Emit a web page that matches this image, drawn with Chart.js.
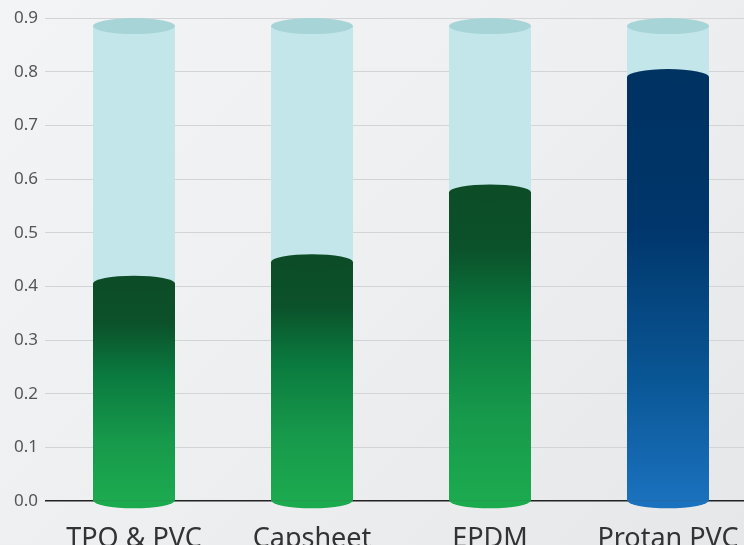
<!DOCTYPE html>
<html>
<head>
<meta charset="utf-8">
<script src="https://cdn.jsdelivr.net/npm/chart.js@4.4.0/dist/chart.umd.min.js"></script>
<style>
  html, body { margin: 0; padding: 0; width: 744px; height: 545px; overflow: hidden; }
  body { background: linear-gradient(135deg, #f3f4f6 0%, #eeeff1 50%, #e6e7e9 100%); }
  canvas { display: block; }
</style>
</head>
<body>
<canvas id="chart" width="757" height="560"></canvas>
<script>
// chart data
const categories = ['TPO & PVC', 'Capsheet', 'EPDM', 'Protan PVC'];
const values = [0.405, 0.445, 0.575, 0.79];
const capacity = [0.885, 0.885, 0.885, 0.885];
const yTicks = [0, 0.1, 0.2, 0.3, 0.4, 0.5, 0.6, 0.7, 0.8, 0.9];

const greenStops = [[0, '#0c4d27'], [0.18, '#0b512a'], [0.42, '#0a7a3f'], [0.72, '#17994b'], [1, '#1caa4f']];
const blueStops = [[0, '#003262'], [0.35, '#00366b'], [0.72, '#0a5796'], [1, '#1a71bd']];

function barFill(context) {
    const chart = context.chart;
    const i = context.dataIndex;
    const y = chart.scales && chart.scales.y;
    if (!chart.chartArea || !y || y.getPixelForValue(0) === undefined) return '#1caa4f';
    const top = y.getPixelForValue(values[i]);
    const base = y.getPixelForValue(0);
    const g = chart.ctx.createLinearGradient(0, top, 0, base);
    (i === 3 ? blueStops : greenStops).forEach(function(s) { g.addColorStop(s[0], s[1]); });
    return g;
}

// draw the cylinder caps on top of each bar
const cylinderCaps = {
    id: 'cylinderCaps',
    afterDatasetDraw: function(chart, args) {
        const ctx = chart.ctx;
        const isValue = args.index === 0;
        args.meta.data.forEach(function(bar, i) {
            const rx = bar.width / 2;
            const ry = 8;
            ctx.save();
            if (isValue) {
                ctx.fillStyle = i === 3 ? '#1a71bd' : '#1caa4f';
                ctx.beginPath();
                ctx.ellipse(bar.x, bar.base, rx, ry, 0, 0, Math.PI);
                ctx.fill();
                ctx.fillStyle = i === 3 ? '#003262' : '#0c4d27';
            } else {
                ctx.fillStyle = '#a6d4d7';
            }
            ctx.beginPath();
            ctx.ellipse(bar.x, bar.y, rx, ry, 0, 0, Math.PI * 2);
            ctx.fill();
            ctx.restore();
        });
    }
};

document.addEventListener('DOMContentLoaded', function() {
    const ctx = document.getElementById('chart').getContext('2d');
    new Chart(ctx, {
        type: 'bar',
        data: {
            labels: categories,
            datasets: [{
                label: 'Value',
                data: values,
                backgroundColor: barFill,
                order: 1
            }, {
                label: 'Capacity',
                data: capacity,
                backgroundColor: '#c3e6ea',
                order: 2
            }]
        },
        options: {
            responsive: false,
            animation: false,
            devicePixelRatio: 1,
            layout: { padding: { top: 18, left: 0, right: 0, bottom: 0 } },
            datasets: {
                bar: {
                    grouped: false,
                    categoryPercentage: 1,
                    barPercentage: 0.4607,
                    borderWidth: 0
                }
            },
            plugins: {
                legend: { display: false },
                tooltip: { enabled: false }
            },
            scales: {
                x: {
                    grid: { display: false },
                    border: { display: false },
                    ticks: {
                        color: '#333333',
                        padding: 14,
                        font: { family: 'Noto Sans', size: 27 }
                    },
                    afterFit: function(scale) { scale.height = 59; }
                },
                y: {
                    min: 0,
                    max: 0.9,
                    border: { display: false },
                    grid: {
                        drawTicks: false,
                        color: function(c) { return c.tick && c.tick.value === 0 ? '#222222' : '#d3d4d6'; },
                        lineWidth: function(c) { return c.tick && c.tick.value === 0 ? 1.5 : 1; }
                    },
                    afterBuildTicks: function(scale) {
                        scale.ticks = yTicks.map(function(v) { return { value: v }; });
                    },
                    ticks: {
                        color: '#555555',
                        padding: 7,
                        font: { family: 'Noto Sans', size: 17 },
                        callback: function(v) { return Number(v).toFixed(1); }
                    },
                    afterFit: function(scale) { scale.width = 45; }
                }
            }
        },
        plugins: [cylinderCaps]
    });
});
</script>
</body>
</html>
